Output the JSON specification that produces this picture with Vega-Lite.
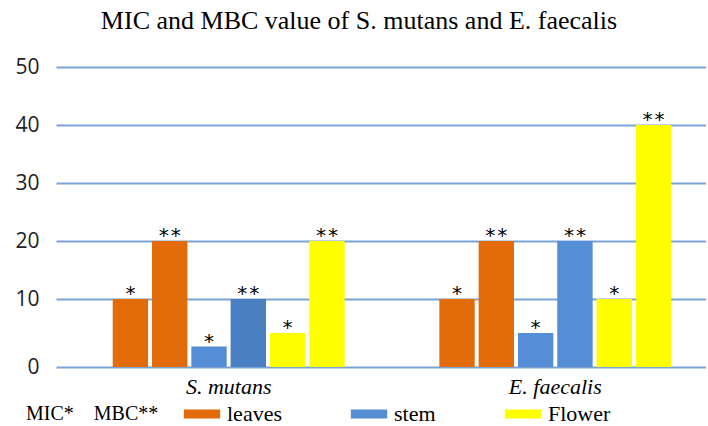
{
  "$schema": "https://vega.github.io/schema/vega-lite/v6.json",
  "width": 650,
  "height": 300,
  "padding": {"left": 14, "top": 8, "right": 0, "bottom": 0},
  "background": "white",
  "title": {
    "text": "MIC and MBC value of S. mutans and E. faecalis",
    "font": "Liberation Serif",
    "fontSize": 26,
    "fontWeight": "normal",
    "color": "black",
    "offset": 22,
    "dx": -22
  },
  "data": {
    "values": [
      {"species": "S. mutans", "part": "leaves", "sub": "leaves MIC", "value": 10, "sig": "*"},
      {"species": "S. mutans", "part": "leaves", "sub": "leaves MBC", "value": 20, "sig": "**"},
      {"species": "S. mutans", "part": "stem", "sub": "stem MIC", "value": 3, "sig": "*"},
      {"species": "S. mutans", "part": "stem", "sub": "stem MBC", "value": 10, "sig": "**"},
      {"species": "S. mutans", "part": "Flower", "sub": "Flower MIC", "value": 5, "sig": "*"},
      {"species": "S. mutans", "part": "Flower", "sub": "Flower MBC", "value": 20, "sig": "**"},
      {"species": "E. faecalis", "part": "leaves", "sub": "leaves MIC", "value": 10, "sig": "*"},
      {"species": "E. faecalis", "part": "leaves", "sub": "leaves MBC", "value": 20, "sig": "**"},
      {"species": "E. faecalis", "part": "stem", "sub": "stem MIC", "value": 5, "sig": "*"},
      {"species": "E. faecalis", "part": "stem", "sub": "stem MBC", "value": 20, "sig": "**"},
      {"species": "E. faecalis", "part": "Flower", "sub": "Flower MIC", "value": 10, "sig": "*"},
      {"species": "E. faecalis", "part": "Flower", "sub": "Flower MBC", "value": 40, "sig": "**"}
    ]
  },
  "encoding": {
    "x": {
      "field": "species",
      "type": "nominal",
      "sort": ["S. mutans", "E. faecalis"],
      "scale": {"paddingInner": 0.29, "paddingOuter": 0.14, "align": 0.62},
      "axis": {
        "title": null,
        "labelAngle": 0,
        "ticks": false,
        "domain": false,
        "labelFont": "Liberation Serif",
        "labelFontStyle": "italic",
        "labelFontSize": 22,
        "labelColor": "black",
        "labelPadding": 9
      }
    },
    "xOffset": {
      "field": "sub",
      "type": "nominal",
      "sort": ["leaves MIC", "leaves MBC", "stem MIC", "stem MBC", "Flower MIC", "Flower MBC"],
      "scale": {"paddingInner": 0.1, "paddingOuter": 0}
    },
    "y": {
      "field": "value",
      "type": "quantitative",
      "scale": {"domain": [0, 10, 50], "range": [300, 232, 0]},
      "axis": {
        "title": null,
        "values": [0, 10, 20, 30, 40, 50],
        "ticks": false,
        "domain": false,
        "grid": true,
        "gridColor": "#7aa3d9",
        "gridWidth": 2,
        "gridOpacity": 1,
        "labelFont": "Open Sans",
        "labelFontSize": 21,
        "labelColor": "#222222",
        "labelPadding": 17
      }
    }
  },
  "layer": [
    {
      "mark": {"type": "bar"},
      "encoding": {
        "color": {
          "condition": {"test": "datum.species === 'S. mutans' && datum.sub === 'stem MBC'", "value": "#4a7fc1"},
          "field": "part",
          "type": "nominal",
          "sort": ["leaves", "stem", "Flower"],
          "scale": {"domain": ["leaves", "stem", "Flower"], "range": ["#e36c0a", "#558ed5", "#ffff00"]},
          "legend": {
            "title": "MIC*\u00a0\u00a0\u00a0\u00a0MBC**",
            "orient": "none",
            "legendX": -30,
            "legendY": 336,
            "direction": "horizontal",
            "titleOrient": "left",
            "titleFont": "Liberation Serif",
            "titleFontSize": 20,
            "titleFontWeight": "normal",
            "titleColor": "black",
            "titlePadding": 23,
            "labelFont": "Liberation Serif",
            "labelFontSize": 22,
            "labelColor": "black",
            "labelOffset": 14,
            "columnPadding": 67,
            "symbolOffset": 9,
            "symbolType": "M-2,-0.5L2,-0.5L2,0.5L-2,0.5Z",
            "symbolSize": 330,
            "symbolStrokeWidth": 0
          }
        }
      }
    },
    {
      "mark": {"type": "text", "baseline": "alphabetic", "dy": 1, "font": "DejaVu Sans Mono", "fontSize": 20, "color": "black"},
      "encoding": {
        "text": {"field": "sig", "type": "nominal"}
      }
    }
  ],
  "config": {
    "view": {"stroke": null}
  }
}
